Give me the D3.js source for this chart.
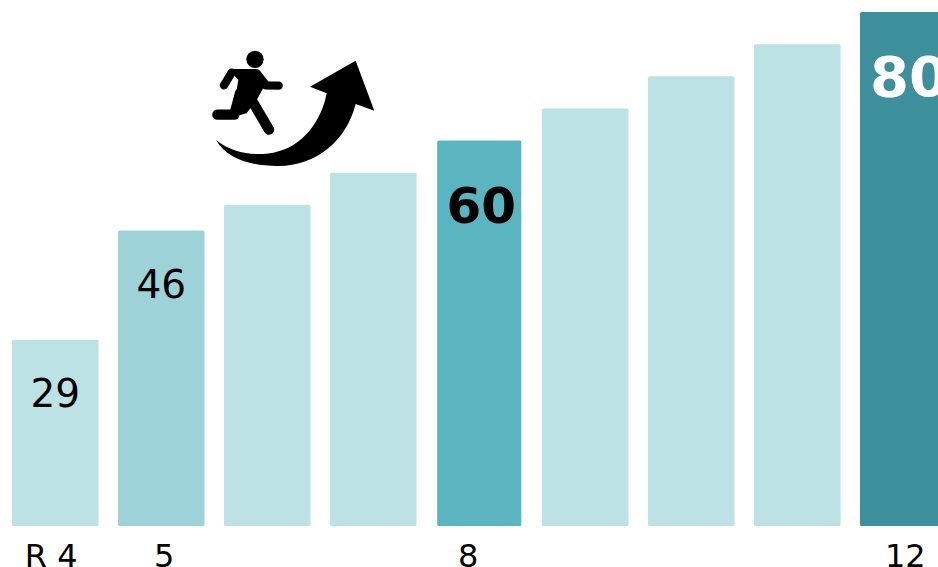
<!DOCTYPE html>
<html><head><meta charset="utf-8">
<script src="https://cdn.jsdelivr.net/npm/d3@7"></script>
<style>html,body{margin:0;padding:0;background:#fff;overflow:hidden}svg{display:block}text{font-family:"DejaVu Sans",sans-serif}</style>
</head><body>
<svg id="c" width="938" height="567"></svg>
<script>
const categories = ["R 4","5","6","7","8","9","10","11","12"];
const values = [29,46,50,55,60,65,70,75,80];
const shownTicks = ["R 4","5","8","12"];
const shownValues = ["R 4","5","8","12"];
const boldValues = ["8","12"];
const tones = {"5":"#9dd3d8","8":"#5ab5c0","12":"#3c8f9b"};
const baseTone = "#bde2e5";

const svg = d3.select("#c");
const x = d3.scaleBand().domain(categories).range([12,946.5]).paddingInner(0.184).paddingOuter(0);
const y = d3.scaleLinear().domain([0,80]).range([526,12]);
const inset = d => d==="8" ? 1.2 : 0;

svg.selectAll("rect.bar").data(categories).join("rect").attr("class","bar")
  .attr("x",d=>x(d)+inset(d)).attr("width",d=>x.bandwidth()-2*inset(d))
  .attr("y",(d,i)=>y(values[i])).attr("height",(d,i)=>y(0)-y(values[i]))
  .attr("rx",1.5)
  .attr("fill",d=>tones[d]||baseTone);

const labelled = categories.map((c,i)=>({c,v:values[i]})).filter(d=>shownValues.includes(d.c));
const valDx = {"R 4":0,"5":0,"8":2,"12":49};
svg.selectAll("text.val").data(labelled).join("text").attr("class","val")
  .attr("text-anchor","middle")
  .attr("x",d=>d.c==="12"?x(d.c)+valDx[d.c]:x(d.c)+x.bandwidth()/2+valDx[d.c])
  .attr("y",d=>y(d.v)+(d.c==="12"?84:d.c==="8"?82:67.5))
  .attr("font-size",d=>d.c==="12"?56:d.c==="8"?50:39)
  .attr("font-weight",d=>boldValues.includes(d.c)?700:400)
  .attr("fill",d=>d.c==="12"?"#fff":"#000")
  .text(d=>d.v);

const tickOffset = {"R 4":-4,"5":3,"8":-11,"12":2};
svg.selectAll("text.tick").data(shownTicks).join("text").attr("class","tick")
  .attr("text-anchor","middle").attr("font-size",32).attr("fill","#000")
  .attr("x",d=>x(d)+x.bandwidth()/2+tickOffset[d]).attr("y",566.5)
  .text(d=>d);

const g = svg.append("g").attr("transform","translate(190,30) scale(0.3333)");
g.append("path").attr("fill","#000")
 .attr("d","M78 330C130 372 200 378 250 368C340 352 395 270 410 190L360 170L497 92L553 242L497 222C470 330 380 410 260 408C180 408 110 385 78 330Z");
g.append("circle").attr("cx",195).attr("cy",88).attr("r",26).attr("fill","#000");
g.append("path").attr("fill","#000").attr("d","M116 117L198 117L232 152L200 210L170 250L125 262L145 150Z");
g.append("path").attr("fill","none").attr("stroke","#000").attr("stroke-width",25).attr("stroke-linecap","round").attr("stroke-linejoin","round")
 .attr("d","M125 128L102 166M200 130L228 166L266 167");
g.append("path").attr("fill","none").attr("stroke","#000").attr("stroke-width",31).attr("stroke-linecap","round").attr("stroke-linejoin","round")
 .attr("d","M150 190L133 254L82 254M176 195L237 299");
</script>
</body></html>
